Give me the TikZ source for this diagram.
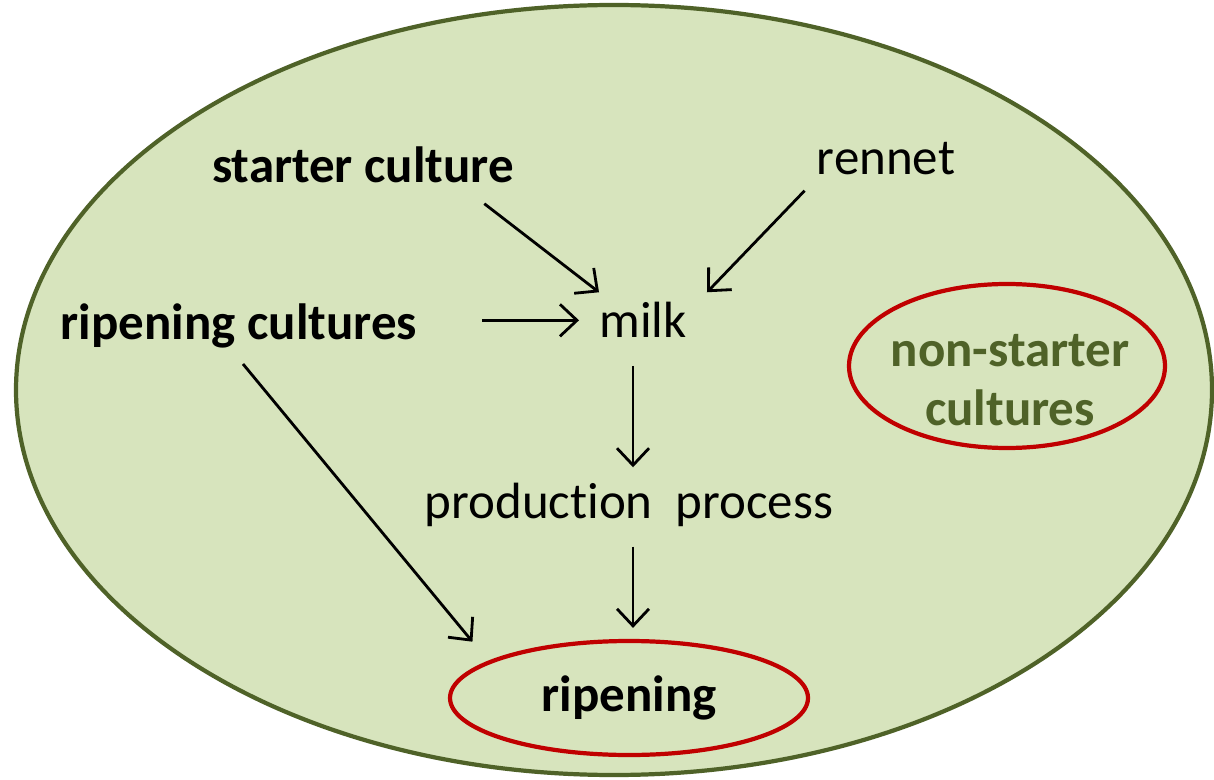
\documentclass[tikz,border=0pt]{standalone}
\usepackage{fontspec}
\setmainfont[Ligatures=NoCommon]{Carlito}
\usepackage{xcolor}
\definecolor{cheeseFill}{HTML}{D7E4BD}
\definecolor{rindGreen}{HTML}{4F6228}
\definecolor{ringRed}{HTML}{C00000}
\usepackage{tikz}
\usetikzlibrary{calc,arrows.meta,shapes.geometric}

\begin{document}
\begin{tikzpicture}[>={Straight Barb[length=3.4mm,width=6.4mm]},
  word/.style={anchor=base, inner sep=0pt, font=\fontsize{29}{34}\selectfont},
  bword/.style={word, font=\fontsize{29}{34}\selectfont\bfseries},
  flow/.style={->, line width=1.6pt},
  ring/.style={ellipse, draw=ringRed, line width=2.4pt, inner sep=0pt}]
  \useasboundingbox (0,0) rectangle (24.28,15.58);
  % the whole cheese
  \filldraw[fill=cheeseFill, draw=rindGreen, line width=2.4pt]
    (12.28,7.78) ellipse [x radius=11.96, y radius=7.70];
  % inputs and steps
  \node[bword] (starter) at (7.26,11.92) {starter culture};
  \node[word]  (rennet)  at (17.72,12.08) {rennet};
  \node[bword] (ripcult) at (4.78,8.78) {ripening cultures};
  \node[word]  (milk)    at (12.86,8.82) {milk};
  \node[word]  (prod)    at (12.58,5.22) {production\ \ process};
  % the two rings
  \node[ring, minimum width=7.16cm, minimum height=2.28cm,
    font=\fontsize{29}{34}\selectfont\bfseries] (ripening) at (12.58,1.62) {ripening};
  \node[ring, minimum width=6.32cm, minimum height=3.28cm] (nsring) at (20.14,8.26) {};
  \node[align=center, text=rindGreen, font=\fontsize{29}{34}\selectfont\bfseries]
    (nonstarter) at (20.2,7.98) {non-starter\\cultures};
  % arrows
  \draw[flow] ($(starter.south east)+(-0.6,-0.4)$) -- ($(milk.north west)+(0,0.2)$);
  \draw[flow] ($(rennet.south west)+(-0.24,-0.3)$) -- ($(milk.north east)+(0.4,0.2)$);
  \draw[flow] ($(ripcult.east |- milk.west)+(1.3,0)$) -- ($(milk.west)+(-0.4,0)$);
  \draw[flow] ($(milk.south -| prod.north)+(0.08,-0.55)$) -- ($(prod.north)+(0.08,0.3)$);
  \draw[flow] ($(prod.south)+(0.08,-0.4)$) -- ($(ripening.north)+(0.08,0.22)$);
  \draw[flow] ($(ripcult.south)+(0.08,-0.3)$) -- ($(ripening.north west)+(-0.57,0.29)$);
\end{tikzpicture}
\end{document}
